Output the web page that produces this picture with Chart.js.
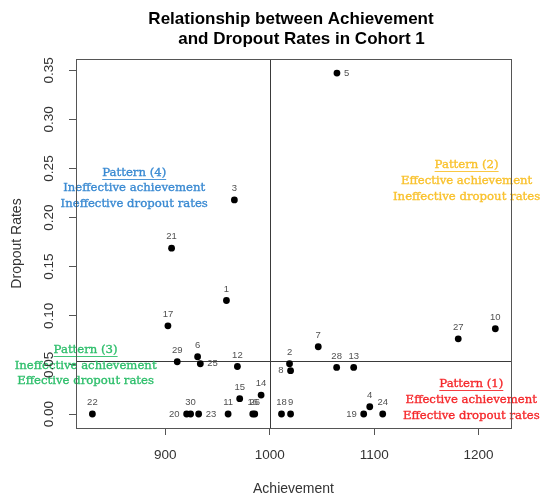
<!DOCTYPE html>
<html>
<head>
<meta charset="utf-8">
<script src="https://cdn.jsdelivr.net/npm/chart.js@4.4.1/dist/chart.umd.min.js"></script>
<style>
  html, body { margin: 0; padding: 0; background: #ffffff; }
  canvas { display: block; }
</style>
</head>
<body>
<canvas id="cohortChart" width="540" height="502"></canvas>
<script>
// Cohort 1 schools: achievement score and dropout rate
const schoolIds = [1, 2, 3, 4, 5, 6, 7, 8, 9, 10, 11, 12, 13, 14, 15,
                   16, 17, 18, 19, 20, 21, 22, 23, 24, 25, 26, 27, 28, 29, 30];
const achievement = [958.6, 1019.0, 966.2, 1095.8, 1064.4, 931.0, 1046.5, 1020.0, 1020.0, 1216.0,
                     960.2, 969.1, 1080.4, 991.8, 971.3, 983.8, 902.6, 1011.3, 1090.0, 920.5,
                     906.1, 830.3, 932.0, 1108.2, 933.6, 985.7, 1180.5, 1064.1, 911.5, 924.3];
const dropoutRates = [0.1156, 0.0512, 0.2180, 0.0074, 0.3472, 0.0583, 0.0685, 0.0441, 0.0000, 0.0868,
                      0.0000, 0.0484, 0.0474, 0.0193, 0.0156, 0.0000, 0.0898, 0.0000, 0.0000, 0.0000,
                      0.1689, 0.0000, 0.0000, 0.0000, 0.0512, 0.0000, 0.0766, 0.0474, 0.0532, 0.0000];
// which side of the point each id label sits on
const labelSide = ['above', 'above', 'above', 'above', 'right', 'above', 'above', 'left', 'above', 'above',
                   'above', 'above', 'above', 'above', 'above', 'above', 'above', 'above', 'left', 'left',
                   'above', 'above', 'right', 'above', 'right', 'above', 'above', 'above', 'above', 'above'];

const xTickValues = [900, 1000, 1100, 1200];
const yTickValues = [0, 0.05, 0.10, 0.15, 0.20, 0.25, 0.30, 0.35];
const yTickLabels = ['0.00', '0.05', '0.10', '0.15', '0.20', '0.25', '0.30', '0.35'];

const titleLines = ['Relationship between Achievement', 'and Dropout Rates in Cohort 1'];
const xAxisTitle = 'Achievement';
const yAxisTitle = 'Dropout Rates';

// Quadrant descriptions, anchored in data units (centre of the middle line)
const patternNotes = [
  { heading: 'Pattern (1)', lines: ['Effective achievement', 'Effective dropout rates'],
    at: [1193, 0.0145], color: '#f5282b' },
  { heading: 'Pattern (2)', lines: ['Effective achievement', 'Ineffective dropout rates'],
    at: [1188.5, 0.2372], color: '#f9c22e' },
  { heading: 'Pattern (3)', lines: ['Ineffective achievement', 'Effective dropout rates'],
    at: [823.8, 0.0494], color: '#2fbf6c' },
  { heading: 'Pattern (4)', lines: ['Ineffective achievement', 'Ineffective dropout rates'],
    at: [870.3, 0.2297], color: '#3a8ad2' }
];

const mean = arr => arr.reduce((s, v) => s + v, 0) / arr.length;
const achievementMean = mean(achievement);
const dropoutMean = mean(dropoutRates);

const points = achievement.map((a, i) => ({ x: a, y: dropoutRates[i] }));

const SANS = '"Liberation Sans", Arial, sans-serif';
const SERIF = '"DejaVu Serif", "Liberation Serif", serif';

const decorations = {
  id: 'decorations',
  beforeDatasetsDraw(chart) {
    const { ctx, chartArea: a, scales: { x, y } } = chart;
    ctx.save();
    ctx.strokeStyle = '#3a3a3a';
    ctx.lineWidth = 1;
    const vx = Math.round(x.getPixelForValue(achievementMean)) + 0.5;
    const hy = Math.round(y.getPixelForValue(dropoutMean)) + 0.5;
    ctx.beginPath();
    ctx.moveTo(vx, a.top); ctx.lineTo(vx, a.bottom);
    ctx.moveTo(a.left, hy); ctx.lineTo(a.right, hy);
    ctx.stroke();
    ctx.restore();
  },
  afterDatasetsDraw(chart) {
    const { ctx, chartArea: a, scales: { x, y } } = chart;
    const meta = chart.getDatasetMeta(0);
    ctx.save();

    // id labels next to each school
    ctx.font = '9.5px ' + SANS;
    ctx.fillStyle = '#505050';
    ctx.textBaseline = 'middle';
    meta.data.forEach((pt, i) => {
      const side = labelSide[i];
      const txt = String(schoolIds[i]);
      if (side === 'left') {
        ctx.textAlign = 'right';
        ctx.fillText(txt, pt.x - 7, pt.y);
      } else if (side === 'right') {
        ctx.textAlign = 'left';
        ctx.fillText(txt, pt.x + 7, pt.y);
      } else {
        ctx.textAlign = 'center';
        ctx.fillText(txt, pt.x, pt.y - 11.5);
      }
    });

    // quadrant notes
    ctx.font = '11.7px ' + SERIF;
    ctx.textAlign = 'center';
    ctx.textBaseline = 'middle';
    const lineGap = 15.7;
    patternNotes.forEach(note => {
      const cx = x.getPixelForValue(note.at[0]);
      const cy = y.getPixelForValue(note.at[1]);
      ctx.fillStyle = note.color;
      ctx.strokeStyle = note.color;
      const rows = [note.heading, ...note.lines];
      rows.forEach((t, k) => {
        const ty = cy + (k - 1) * lineGap;
        ctx.fillText(t, cx, ty);
        ctx.lineWidth = 0.35;
        ctx.strokeText(t, cx, ty);
        if (k === 0) {
          const w = ctx.measureText(t).width;
          ctx.lineWidth = 0.9;
          ctx.beginPath();
          ctx.moveTo(cx - w / 2, Math.round(ty + 6) + 0.5);
          ctx.lineTo(cx + w / 2, Math.round(ty + 6) + 0.5);
          ctx.stroke();
        }
      });
    });

    // plot frame
    ctx.strokeStyle = '#555555';
    ctx.lineWidth = 1;
    ctx.strokeRect(Math.round(a.left) + 0.5, Math.round(a.top) + 0.5,
                   Math.round(a.right - a.left), Math.round(a.bottom - a.top));

    // rotated y tick labels
    ctx.fillStyle = '#333333';
    ctx.font = '13.5px ' + SANS;
    ctx.textAlign = 'center';
    ctx.textBaseline = 'middle';
    yTickValues.forEach((v, k) => {
      const py = y.getPixelForValue(v);
      ctx.save();
      ctx.translate(49.5, py);
      ctx.rotate(-Math.PI / 2);
      ctx.fillText(yTickLabels[k], 0, 0);
      ctx.restore();
    });

    // axis titles
    ctx.font = '14px ' + SANS;
    ctx.fillText(xAxisTitle, (a.left + a.right) / 2, 489);
    ctx.save();
    ctx.translate(17.5, (a.top + a.bottom) / 2);
    ctx.rotate(-Math.PI / 2);
    ctx.fillText(yAxisTitle, 0, 0);
    ctx.restore();

    // title
    ctx.fillStyle = '#000000';
    ctx.font = 'bold 17px ' + SANS;
    ctx.textBaseline = 'alphabetic';
    ctx.fillText(titleLines[0], 291, 23.5);
    ctx.fillText(titleLines[1], 301.5, 43.5);

    ctx.restore();
  }
};

new Chart(document.getElementById('cohortChart'), {
  type: 'scatter',
  data: {
    datasets: [{
      data: points,
      backgroundColor: '#000000',
      borderColor: '#000000',
      pointRadius: 3.4,
      pointHoverRadius: 3.4,
      borderWidth: 0
    }]
  },
  options: {
    responsive: false,
    animation: false,
    devicePixelRatio: 1,
    layout: { padding: { top: 59, right: 29, left: 0, bottom: 0 } },
    plugins: { legend: { display: false }, tooltip: { enabled: false }, title: { display: false } },
    scales: {
      x: {
        type: 'linear',
        min: 814.6,
        max: 1231,
        afterBuildTicks: s => { s.ticks = xTickValues.map(v => ({ value: v })); },
        afterFit: s => { s.height = 74; },
        border: { display: false },
        grid: { drawOnChartArea: false, drawTicks: true, tickLength: 7, tickColor: '#555555' },
        ticks: {
          color: '#333333',
          font: { family: SANS, size: 13.5 },
          padding: 12,
          maxRotation: 0,
          callback: v => String(v)
        }
      },
      y: {
        type: 'linear',
        min: -0.01424,
        max: 0.3615,
        afterBuildTicks: s => { s.ticks = yTickValues.map(v => ({ value: v })); },
        afterFit: s => { s.width = 76; },
        border: { display: false },
        grid: { drawOnChartArea: false, drawTicks: true, tickLength: 7, tickColor: '#555555' },
        ticks: { display: false }
      }
    }
  },
  plugins: [decorations]
});
</script>
</body>
</html>
